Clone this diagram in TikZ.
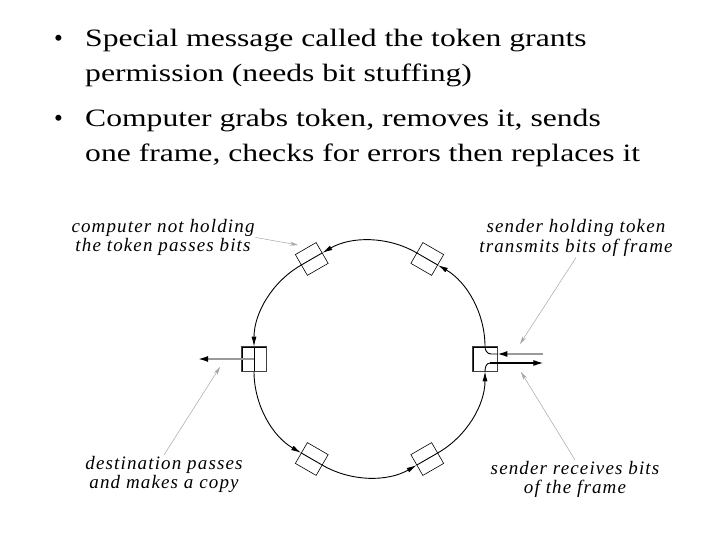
\documentclass[tikz,border=0pt]{standalone}
\usepackage{fontspec}
\setmainfont{Liberation Serif}
\newfontfamily\itemfont{Liberation Serif}[FakeStretch=1.265]
\newfontfamily\notefont{Liberation Serif}[LetterSpace=6]
\usetikzlibrary{positioning, arrows.meta}

\begin{document}
\begin{tikzpicture}[x=1pt, y=1pt,
  station/.style={draw, line width=0.6pt, minimum size=24pt, inner sep=0pt},
  ring/.style={line width=0.9pt},
  feed/.style={line width=1.6pt, gray!80, -{Latex[black, length=10pt, width=6pt]}},
  pointer/.style={line width=0.5pt, gray!70, -{Stealth[length=8pt, width=4pt]}},
  note/.style={align=center, inner sep=1pt, font=\notefont\itshape\fontsize{19}{19.5}\selectfont},
  item/.style={anchor=base west, inner sep=0pt, font=\itemfont\fontsize{25}{35}\selectfont}]
\useasboundingbox (0,0) rectangle (720,540);

% bullet text
\node[item, font=\fontsize{25}{35}\selectfont] (bulA) at (54,493) {\textbullet};
\node[item] (itemA) at (85,493) {Special message called the token grants};
\node[item] (itemA2) at (85,458) {permission (needs bit stuffing)};
\node[item, font=\fontsize{25}{35}\selectfont] (bulB) at (54,413) {\textbullet};
\node[item] (itemB) at (85,413) {Computer grabs token, removes it, sends};
\node[item] (itemB2) at (85,378) {one frame, checks for errors then replaces it};

% ring of stations
\coordinate (c) at (369.5,181);
\foreach \a in {0,60,...,300}
  \node[station, rotate=\a] (s\a) at ([shift={(\a:115.5)}]c) {};
\foreach \a in {60,120,...,300}
  \draw[ring] (s\a.north) -- (s\a.south);
\draw[ring, -{Latex[length=10pt, width=5pt]}] (s0) to[bend right=30, looseness=0.91] (s60);
\draw[ring, -{Latex[length=10pt, width=5pt]}] (s60) to[bend right=30, looseness=0.91] (s120);
\draw[ring, -{Latex[length=10pt, width=5pt]}] (s120) to[bend right=30, looseness=0.91] (s180);
\draw[ring, -{Latex[length=10pt, width=5pt]}] (s180) to[bend right=30, looseness=0.91] (s240);
\draw[ring, -{Latex[length=10pt, width=5pt]}] (s240) to[bend right=30, looseness=0.91] (s300);
\draw[ring, -{Latex[length=10pt, width=5pt]}] (s300) to[bend right=30, looseness=0.91] (s0);
\draw[draw=black!75, line width=1.1pt] (s0.south west) rectangle (s0.north east);
\draw[draw=black!75, line width=1.1pt] (s180.south west) rectangle (s180.north east);

% sender
\coordinate (tin) at ([xshift=46pt, yshift=5pt]s0.east);
\coordinate (tout) at ([xshift=46pt, yshift=-4pt]s0.east);
\draw[ring] (s0.north) to[out=-90, in=180] ([xshift=6pt, yshift=5pt]s0.center) -- (tin -| s0.east);
\draw[ring] (s0.south) to[out=90, in=180] ([xshift=5pt, yshift=-4pt]s0.center);
\draw[feed] (tin) -- (tin -| s0.east);
\draw[line width=1.2pt, -{Latex[length=10pt, width=6pt]}] ([xshift=5pt, yshift=-4pt]s0.center) -- (tout);

% destination
\coordinate (dout) at ([xshift=-56pt]s180.center);
\draw[feed] (s180.center) -- (dout);

% notes
\node[note] (noteA) at (163,302.5) {computer not holding\\the token passes bits};
\node[note] (noteB) at (576,302) {sender holding token\\transmits bits of frame};
\node[note] (noteC) at (575,60.5) {sender receives bits\\of the frame};
\node[note] (noteD) at (164,65.5) {destination passes\\and makes a copy};
\coordinate (pA) at (298,295);
\coordinate (pB) at (520,196);
\coordinate (pC) at (521,168);
\coordinate (pD) at (220,173);
\draw[pointer] (noteA.east) -- (pA);
\draw[pointer] (noteB.south) -- (pB);
\draw[pointer] (noteC.north) -- (pC);
\draw[pointer] (noteD.north) -- (pD);
\end{tikzpicture}
\end{document}
